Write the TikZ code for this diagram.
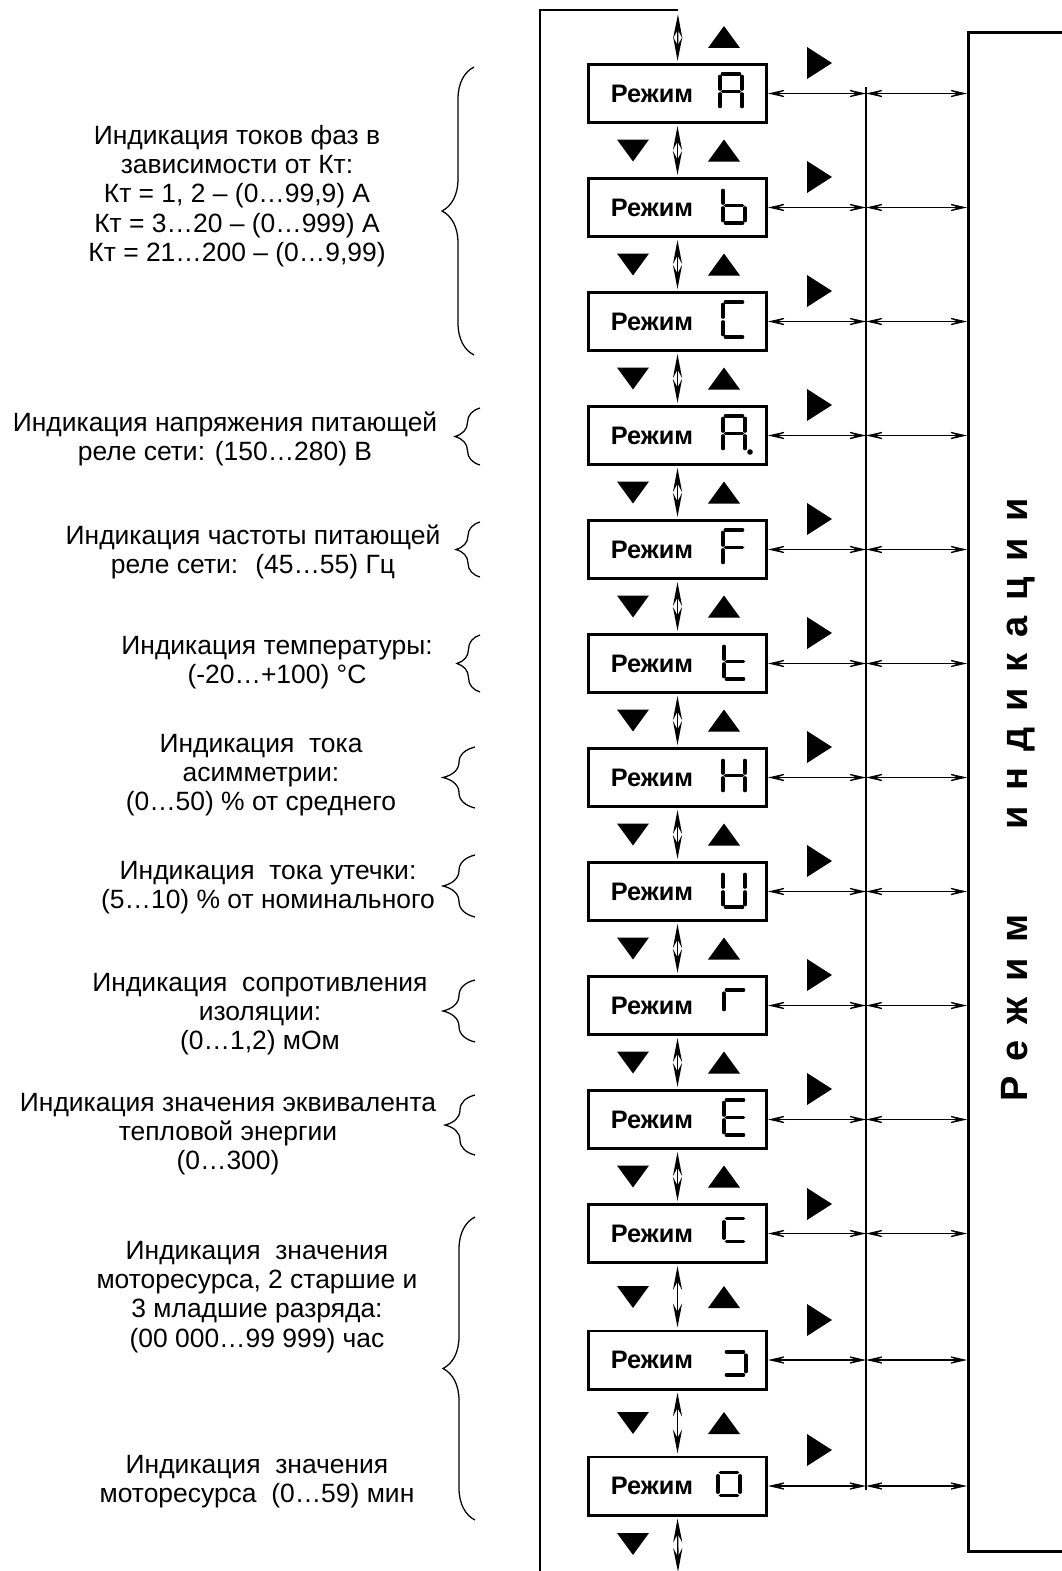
\documentclass[tikz,border=0pt]{standalone}
\usepackage{fontspec}
\setmainfont{Liberation Sans}
\usetikzlibrary{arrows.meta, decorations.pathreplacing}

% seven-segment pieces, local units (y runs down)
\newcommand{\sga}{(-8.5,-17.5) -- (8.5,-17.5)}
\newcommand{\sgb}{(11,-15) -- (11,-2.5)}
\newcommand{\sgc}{(11,2.5) -- (11,15)}
\newcommand{\sgd}{(-8.5,17.5) -- (8.5,17.5)}
\newcommand{\sge}{(-11,2.5) -- (-11,15)}
\newcommand{\sgf}{(-11,-15) -- (-11,-2.5)}
\newcommand{\sgg}{(-8.5,0) -- (8.5,0)}

\begin{document}
\begin{tikzpicture}[
    x=0.025cm, y=-0.025cm,
    modebox/.style={
        draw,
        line width=2.1pt,
        minimum width=4.45cm,
        minimum height=1.45cm,
        inner sep=0pt
    },
    modetext/.style={font=\fontsize{18}{20}\selectfont\bfseries, inner sep=0pt},
    infotext/.style={align=center, font=\fontsize{18.8}{20.8}\selectfont, inner sep=0pt},
    titletext/.style={font=\fontsize{27}{30}\selectfont\bfseries\addfontfeature{LetterSpace=42},
        inner sep=0pt, rotate=90},
    wire/.style={line width=0.9pt},
    segline/.style={line width=2.6pt, line cap=round},
    vlink/.style={line width=1pt,
        {Stealth[length=17pt,width=6.5pt,inset=6pt]}-{Stealth[length=17pt,width=6.5pt,inset=6pt]},
        shorten <=1.5pt, shorten >=1.5pt},
    hlink/.style={line width=0.8pt,
        {Stealth[length=17.5pt,width=8pt,inset=11pt]}-{Stealth[length=17.5pt,width=8pt,inset=11pt]}},
    curly/.style={line width=0.9pt, decorate, decoration={brace, amplitude=#1}}
]

\useasboundingbox (0,0) rectangle (1062,1571);
\clip (0,0) rectangle (1062,1571);

\coordinate (tl) at (540,10);
\coordinate (bl) at (540,1580);
\coordinate (top) at (678,10);
\coordinate (bot) at (678,1572);
\coordinate (sp1) at (866,87);
\coordinate (sp2) at (866,1490);

% right panel
\node[modebox, minimum width=3.5cm, minimum height=37.975cm] (panel) at (1038.5,792) {};
\node[titletext] (title) at (1018,800) {Режим\hspace{60pt}индикации};

% mode boxes
\foreach \cy/\gx/\gy/\gs/\segs/\ty [count=\i] in {
    93.5/731/91.5/1/{a,b,c,e,f,g}/63,
    207.5/734/205.5/1/{c,d,e,f,g}/177,
    321.5/734/319.5/1/{a,d,e,f}/291,
    435.5/734/433.5/1/{a,b,c,e,f,g}/405,
    549.5/734/547.5/1/{a,e,f,g}/519,
    663.5/735/661.5/1/{d,e,f,g}/633,
    777.5/734/775.5/1/{b,c,e,f,g}/747,
    891.5/734/889.5/1/{b,c,d,e,f}/861,
    1005.5/735/990/1.3/{e,g}/975,
    1119.5/735/1117.5/1/{a,d,e,f,g}/1089,
    1233.5/735/1218.6/1.3/{d,e,g}/1204,
    1360/735/1352/1.3/{c,d,g}/1320,
    1486/729/1472.6/1.3/{c,d,e,g}/1450}{
  \node[modebox] (m\i) at (677.5,\cy) {};
  \node[modetext] (t\i) at (652,\cy) {Режим};
  \begin{scope}[shift={(\gx,\gy)}, yscale=\gs]
    \foreach \s in \segs {\draw[segline] \csname sg\s\endcsname;}
  \end{scope}
  \fill (807,\ty-16) -- (832,\ty) -- (807,\ty+16) -- cycle;
  \draw[hlink] (m\i.east) -- (m\i.east -| sp1);
  \draw[hlink] (m\i.east -| sp1) -- (m\i.east -| panel.west);
}
\fill (750,452) circle (2.8);

% up / down marks
\foreach \my [count=\k] in {37,150.5,264.5,378.5,492.5,606.5,720.5,834.5,948.5,1062.5,1176.5,1297,1423,1544}{
  \ifnum\k<14 \fill (708,\my+11) -- (740,\my+11) -- (724,\my-11) -- cycle; \fi
  \ifnum\k>1 \fill (617,\my-11) -- (649,\my-11) -- (633,\my+11) -- cycle; \fi
}

% links
\draw[wire] (bl) -- (tl) -- (top);
\draw[vlink, shorten <=3pt] (top) -- (m1.north);
\foreach \i [count=\j from 2] in {1,...,12}{
  \draw[vlink] (m\i.south) -- (m\j.north);
}
\draw[vlink, shorten >=0pt] (m13.south) -- (bot);
\draw[wire] (sp1) -- (sp2);

% descriptions
\node[infotext] (d1) at (237,196) {Индикация токов фаз в\\зависимости от Кт:\\Кт = 1, 2 – (0…99,9) А\\Кт = 3…20 – (0…999) А\\Кт = 21…200 – (0…9,99)};
\node[infotext] (d2) at (225,439) {Индикация напряжения питающей\\реле сети: (150…280) В};
\node[infotext] (d3) at (253,552) {Индикация частоты питающей\\реле сети:~ (45…55) Гц};
\node[infotext] (d4) at (277,663) {Индикация температуры:\\(-20…+100) °C};
\node[infotext] (d5) at (261,775) {Индикация~ тока\\асимметрии:\\(0…50) \% от среднего};
\node[infotext] (d6) at (268,888) {Индикация~ тока утечки:\\(5…10) \% от номинального};
\node[infotext] (d7) at (260,1014) {Индикация~ сопротивления\\изоляции:\\(0…1,2) мОм};
\node[infotext] (d8) at (228,1134) {Индикация значения эквивалента\\тепловой энергии\\(0…300)};
\node[infotext] (d9) at (257,1297) {Индикация~ значения\\моторесурса, 2 старшие и\\3 младшие разряда:\\(00 000…99 999) час};
\node[infotext] (d10) at (257,1482) {Индикация~ значения\\моторесурса~ (0…59) мин};

% braces
\draw[curly=0.8cm] (474,355) -- (474,67);
\draw[curly=0.625cm] (480,465) -- (480,408);
\draw[curly=0.6cm] (480,577) -- (480,522);
\draw[curly=0.575cm] (480,692) -- (480,635);
\draw[curly=0.8cm] (475,808) -- (475,747);
\draw[curly=0.8cm] (475,917) -- (475,855);
\draw[curly=0.8cm] (475,1042) -- (475,980);
\draw[curly=0.75cm] (475,1155) -- (475,1095);
\draw[curly=0.8cm] (475,1520) -- (475,1217);

\end{tikzpicture}
\end{document}
